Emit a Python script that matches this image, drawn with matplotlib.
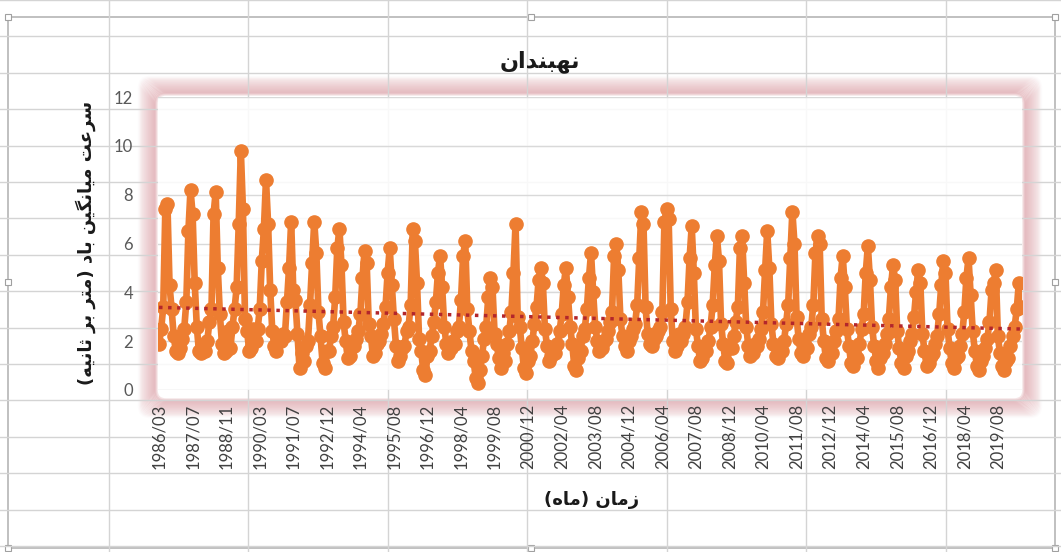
import numpy as np
import pandas as pd
import matplotlib
matplotlib.use("Agg")
import matplotlib.pyplot as plt
from matplotlib.patches import Rectangle, FancyBboxPatch

# ======================
# Data (monthly mean wind speed, m/s)
# ======================
START_MONTH = "1986-03"
END_MONTH = "2020-07"
MISSING_MONTH = "1991-12"   # one gap in the record (labels jump 17 months there)

wind_speed = [
    # 1986 (Mar-Dec)
    1.9, 2.5, 3.4, 7.4, 7.6, 4.3, 3.3, 2.2, 1.6, 1.5,
    # 1987
    1.7, 2.1, 2.5, 3.6, 6.5, 8.2, 7.2, 4.4, 2.6, 1.6, 1.5, 1.8,
    # 1988
    1.6, 2.0, 2.8, 3.3, 7.2, 8.1, 5.0, 3.1, 1.9, 1.5, 1.6, 2.4,
    # 1989
    1.7, 2.6, 3.3, 4.2, 6.8, 9.8, 7.4, 2.9, 2.4, 1.6, 1.7, 2.5,
    # 1990
    2.0, 2.5, 3.3, 5.3, 6.6, 8.6, 6.8, 4.1, 2.4, 1.8, 1.6, 2.2,
    # 1991 (Jan-Nov)
    2.0, 2.3, 2.2, 3.6, 5.0, 6.9, 4.1, 3.7, 2.3, 0.9, 1.5,
    # 1992
    1.2, 1.8, 2.0, 3.5, 5.2, 6.9, 5.6, 3.2, 2.2, 1.1, 0.9, 1.6,
    # 1993
    1.6, 2.2, 2.6, 3.8, 5.8, 6.6, 5.1, 2.8, 2.0, 1.3, 1.4, 1.9,
    # 1994
    1.8, 2.1, 2.4, 3.1, 4.6, 5.7, 5.2, 2.7, 2.2, 1.4, 1.5, 1.9,
    # 1995
    2.0, 2.3, 2.7, 3.4, 4.8, 5.8, 4.3, 2.9, 1.8, 1.2, 1.4, 1.7,
    # 1996
    1.8, 2.4, 2.6, 3.5, 6.6, 6.1, 4.4, 2.1, 1.6, 0.8, 0.6, 1.4,
    # 1997
    1.6, 2.2, 2.8, 3.6, 4.8, 5.5, 4.2, 2.6, 1.9, 1.5, 1.7, 2.0,
    # 1998
    1.9, 2.4, 2.6, 3.7, 5.5, 6.1, 3.3, 2.4, 1.6, 1.2, 0.5, 0.3,
    # 1999
    0.8, 1.4, 2.1, 2.6, 3.8, 4.6, 4.2, 2.3, 1.9, 1.3, 0.9, 1.5,
    # 2000
    1.2, 1.9, 2.4, 3.2, 4.8, 6.8, 3.0, 2.6, 1.7, 0.9, 0.7, 1.2,
    # 2001
    1.4, 2.0, 2.7, 3.4, 4.5, 5.0, 4.4, 2.5, 1.8, 1.2, 1.4, 1.7,
    # 2002
    1.5, 1.9, 2.4, 3.1, 4.3, 5.0, 3.8, 2.6, 1.9, 1.0, 0.8, 1.3,
    # 2003
    1.6, 2.2, 2.5, 3.3, 4.6, 5.6, 4.0, 2.6, 2.0, 1.6, 1.7, 2.0,
    # 2004
    2.1, 2.4, 2.8, 3.2, 5.5, 6.0, 4.9, 2.9, 2.2, 1.8, 1.6, 2.0,
    # 2005
    2.2, 2.5, 2.7, 3.5, 5.4, 7.3, 6.8, 3.4, 2.3, 1.9, 1.8, 2.1,
    # 2006
    2.2, 2.4, 2.6, 3.2, 6.9, 7.4, 7.0, 3.3, 2.0, 1.6, 1.8, 2.3,
    # 2007
    2.0, 2.3, 2.6, 3.6, 5.4, 6.7, 4.8, 2.5, 1.8, 1.2, 1.3, 1.7,
    # 2008
    1.6, 2.0, 2.6, 3.5, 5.1, 6.3, 5.3, 2.7, 1.9, 1.2, 1.1, 1.8,
    # 2009
    1.7, 2.2, 2.8, 3.4, 5.8, 6.3, 4.4, 2.6, 1.8, 1.4, 1.5, 1.9,
    # 2010
    1.8, 2.1, 2.5, 3.2, 4.9, 6.5, 5.0, 2.7, 1.9, 1.4, 1.3, 1.7,
    # 2011
    1.6, 2.0, 2.7, 3.5, 5.4, 7.3, 6.0, 3.0, 2.1, 1.5, 1.4, 1.8,
    # 2012
    1.7, 2.3, 2.6, 3.5, 5.6, 6.3, 6.0, 2.9, 2.0, 1.3, 1.2, 1.6,
    # 2013
    1.5, 2.0, 2.4, 2.9, 4.6, 5.5, 4.2, 2.5, 1.8, 1.1, 1.0, 1.4,
    # 2014
    1.3, 1.9, 2.5, 3.1, 4.8, 5.9, 4.5, 2.6, 1.8, 1.2, 0.9, 1.3,
    # 2015
    1.5, 1.9, 2.3, 2.9, 4.2, 5.1, 4.5, 2.4, 1.7, 1.1, 0.9, 1.4,
    # 2016
    1.6, 2.0, 2.3, 3.0, 4.0, 4.9, 4.4, 2.3, 1.6, 1.0, 1.1, 1.4,
    # 2017
    1.5, 1.9, 2.2, 3.1, 4.3, 5.3, 4.8, 2.5, 1.7, 1.1, 0.9, 1.3,
    # 2018
    1.4, 1.8, 2.3, 3.2, 4.6, 5.4, 3.9, 2.4, 1.6, 1.0, 0.8, 1.2,
    # 2019
    1.4, 1.7, 2.1, 2.8, 4.1, 4.4, 4.9, 2.2, 1.5, 1.0, 0.8, 1.2,
    # 2020 (Jan-Jul)
    1.3, 1.8, 2.2, 2.6, 3.3, 4.4, 3.4,
]

tick_labels = [
    "1986/03", "1987/07", "1988/11", "1990/03", "1991/07", "1992/12",
    "1994/04", "1995/08", "1996/12", "1998/04", "1999/08", "2000/12",
    "2002/04", "2003/08", "2004/12", "2006/04", "2007/08", "2008/12",
    "2010/04", "2011/08", "2012/12", "2014/04", "2015/08", "2016/12",
    "2018/04", "2019/08",
]
y_ticks = [0, 2, 4, 6, 8, 10, 12]

TITLE = "نهبندان"
Y_LABEL = "سرعت میانگین باد (متر بر ثانیه)"
X_LABEL = "زمان (ماه)"

# ======================
# Helpers
# ======================
# (isolated, final, initial, medial) presentation forms
FORMS = {
    "ا": ("\uFE8D", "\uFE8E", None, None),
    "ب": ("\uFE8F", "\uFE90", "\uFE91", "\uFE92"),
    "ت": ("\uFE95", "\uFE96", "\uFE97", "\uFE98"),
    "ث": ("\uFE99", "\uFE9A", "\uFE9B", "\uFE9C"),
    "د": ("\uFEA9", "\uFEAA", None, None),
    "ر": ("\uFEAD", "\uFEAE", None, None),
    "ز": ("\uFEAF", "\uFEB0", None, None),
    "س": ("\uFEB1", "\uFEB2", "\uFEB3", "\uFEB4"),
    "ع": ("\uFEC9", "\uFECA", "\uFECB", "\uFECC"),
    "م": ("\uFEE1", "\uFEE2", "\uFEE3", "\uFEE4"),
    "ن": ("\uFEE5", "\uFEE6", "\uFEE7", "\uFEE8"),
    "ه": ("\uFEE9", "\uFEEA", "\uFEEB", "\uFEEC"),
    "ی": ("\uFBFC", "\uFBFD", "\uFBFE", "\uFBFF"),
    "گ": ("\uFB92", "\uFB93", "\uFB94", "\uFB95"),
}
MIRROR = {"(": ")", ")": "("}


def shape_rtl(text):
    """Poor man's Persian shaping + visual reordering (matplotlib has no bidi)."""
    out = []
    for i, ch in enumerate(text):
        if ch not in FORMS:
            out.append(MIRROR.get(ch, ch))
            continue
        prev = text[i - 1] if i > 0 else ""
        nxt = text[i + 1] if i + 1 < len(text) else ""
        dual = FORMS[ch][2] is not None
        join_prev = prev in FORMS and FORMS[prev][2] is not None
        join_next = dual and nxt in FORMS
        if join_prev and join_next:
            out.append(FORMS[ch][3])
        elif join_prev:
            out.append(FORMS[ch][1])
        elif join_next:
            out.append(FORMS[ch][2])
        else:
            out.append(FORMS[ch][0])
    return "".join(reversed(out))


# ======================
# Categories
# ======================
months = pd.period_range(START_MONTH, END_MONTH, freq="M")
months = [m.strftime("%Y/%m") for m in months if str(m) != MISSING_MONTH]
assert len(months) == len(wind_speed), (len(months), len(wind_speed))
x = np.arange(len(months))
tick_pos = [months.index(t) for t in tick_labels]

W, H = 1061, 552
fig = plt.figure(figsize=(W / 100, H / 100), dpi=100)
fig.patch.set_facecolor("white")

# ---------- spreadsheet background ----------
bg = fig.add_axes([0, 0, 1, 1], zorder=0)
bg.set_xlim(0, W)
bg.set_ylim(H, 0)
bg.axis("off")
for yy in np.arange(0, H, 36.4):
    bg.axhline(yy, color="#d4d4d4", lw=1)
for xx in [109, 248, 388, 527, 667, 806, 946]:
    bg.axvline(xx, color="#d4d4d4", lw=1)

# chart frame + handles
bg.add_patch(Rectangle((8, 17), 1047, 531, fill=False, ec="#b5b5b5", lw=1.2))
for hx in (8, 531, 1055):
    for hy in (17, 282, 548):
        if hx == 531 and hy == 282:
            continue
        bg.add_patch(Rectangle((hx - 3, hy - 3), 6, 6, fc="white", ec="#a0a0a0", lw=0.8))

# soft pink glow around plot area (a ring of fading outlines)
px0, px1, py0, py1 = 158, 1022, 97, 390
gx0, gx1, gy0, gy1 = 156, 1024, 94, 400
for k in range(16):
    d = k * 1.1
    bg.add_patch(FancyBboxPatch((gx0 - d, gy0 - d), (gx1 - gx0) + 2 * d, (gy1 - gy0) + 2 * d,
                                boxstyle="round,pad=0,rounding_size=10", fc="none",
                                ec="#cf7c85", lw=2.4, alpha=0.22 * (1 - k / 16) ** 0.8))

# ---------- main chart ----------
ax = fig.add_axes([px0 / W, (H - py1) / H, (px1 - px0) / W, (py1 - py0) / H], zorder=2)
ax.set_facecolor((1, 1, 1, 0.85))
for s in ax.spines.values():
    s.set_visible(False)
ax.grid(axis="y", color="#d9d9d9", lw=1)
ax.set_axisbelow(True)

ax.plot(x, wind_speed, color="#ED7D31", lw=4.8, marker="o", ms=9.5,
        solid_joinstyle="round", zorder=3)

coef = np.polyfit(x, wind_speed, 1)
ax.plot(x, np.polyval(coef, x), color="#B3262B", lw=2.5,
        linestyle=(0, (1, 1.6)), zorder=4)

ax.set_xlim(-0.5, len(x) - 0.5)
ax.set_ylim(0, 12)
ax.set_yticks(y_ticks)
ax.set_yticklabels([str(t) for t in y_ticks], fontsize=12, color="#595959", family="Lato")
ax.set_xticks(tick_pos)
ax.set_xticklabels(tick_labels, rotation=90, fontsize=12, color="#404040", family="Lato")
ax.tick_params(length=0, pad=10)
ax.tick_params(axis="y", pad=18)

# ---------- texts ----------
fig.text(540 / W, 1 - 62 / H, shape_rtl(TITLE), ha="center", va="center",
         fontsize=16, fontweight="bold", family="DejaVu Sans", color="#1a1a1a")
fig.text(86 / W, 1 - 243 / H, shape_rtl(Y_LABEL), ha="center", va="center",
         rotation=90, fontsize=13, fontweight="bold", family="DejaVu Sans", color="#1a1a1a")
fig.text(592 / W, 1 - 500 / H, shape_rtl(X_LABEL), ha="center", va="center",
         fontsize=13, fontweight="bold", family="DejaVu Sans", color="#1a1a1a")

fig.savefig("out.png", dpi=100)
